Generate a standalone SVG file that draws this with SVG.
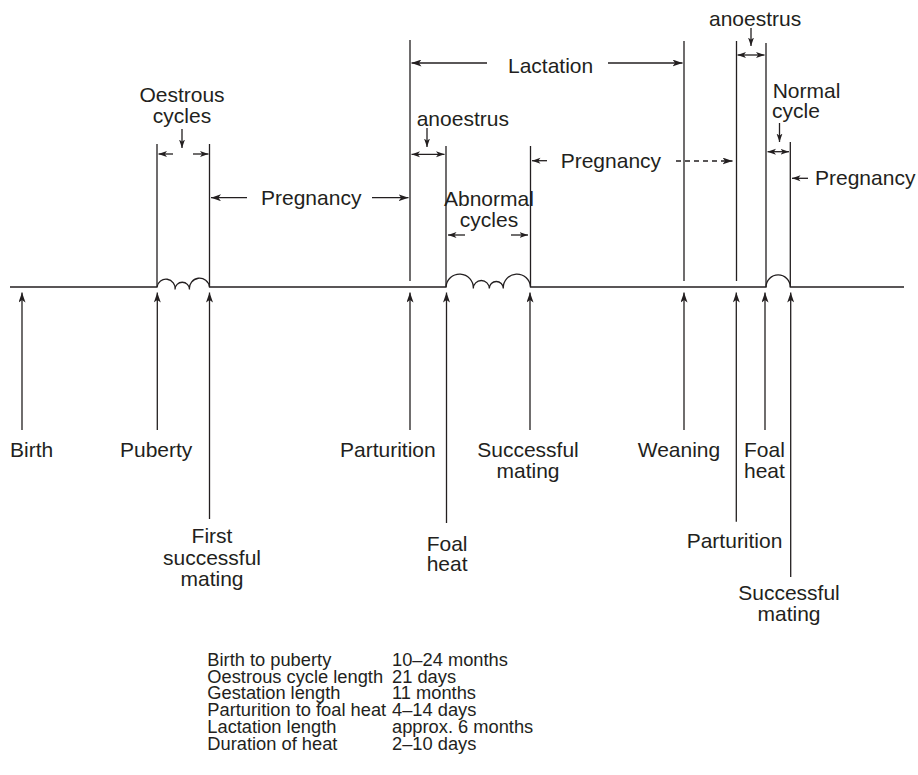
<svg xmlns="http://www.w3.org/2000/svg" width="918" height="775" viewBox="0 0 918 775">
<style>
.t{font-family:"Liberation Sans",Arial,Helvetica,sans-serif;font-size:21px;fill:#231f20}
.m{text-anchor:middle}
.tb{font-family:"Liberation Sans",Arial,Helvetica,sans-serif;font-size:18.3px;fill:#231f20}
.ln{fill:none;stroke:#231f20;stroke-width:1.3}
.ar{fill:none;stroke:#231f20;stroke-width:1.3;marker-end:url(#ah)}
.dbl{fill:none;stroke:#231f20;stroke-width:1.3;marker-start:url(#ahs);marker-end:url(#ahs)}
.sm{fill:none;stroke:#231f20;stroke-width:1.3;marker-end:url(#ahs)}
</style>
<defs>
<marker id="ah" viewBox="0 0 10 7" refX="10" refY="3.5" markerWidth="10" markerHeight="7" markerUnits="userSpaceOnUse" orient="auto">
<path d="M0,0 L10,3.5 L0,7 L2.6,3.5 z" fill="#231f20"/>
</marker>
<marker id="ahs" viewBox="0 0 10 7" refX="10" refY="3.5" markerWidth="8.5" markerHeight="6.6" markerUnits="userSpaceOnUse" orient="auto-start-reverse">
<path d="M0,0 L10,3.5 L0,7 L2.6,3.5 z" fill="#231f20"/>
</marker>
</defs>
<rect width="918" height="775" fill="#fff"/>

<g id="timeline">
<path class="ln" d="M10,287 H157 A9,9 0 0 1 175,289.5 A7,7 0 0 1 189.5,289.5 A9.5,9.5 0 0 1 209.5,287 H446 A13.5,13.5 0 0 1 473.3,288.5 A8,8 0 0 1 489.3,288.5 A7,7 0 0 1 503.3,288.5 A13.5,13.5 0 0 1 530.5,287 H766 A12,12 0 0 1 790.3,287 H904"/>
<path class="ln" d="M157,144 V287 M209.5,144 V287 M410,40 V281 M446,146 V287 M530.5,146 V287 M684,41 V281 M736.5,41 V281 M766,43 V287 M790.3,142 V287"/>
</g>

<g id="connectors">
<path class="sm" d="M182,129 V148"/>
<path class="sm" d="M173,154 H158.5"/>
<path class="sm" d="M193,154 H208.5"/>
<path class="ar" d="M247,197.7 H211"/>
<path class="ar" d="M372,197.7 H408.5"/>
<path class="ar" d="M487,63 H411.5"/>
<path class="ar" d="M608,63 H682.5"/>
<path class="sm" d="M427,128 V147"/>
<path class="dbl" d="M411.5,154.3 H444.5"/>
<path class="sm" d="M465,235 H448"/>
<path class="sm" d="M511,235 H528"/>
<path class="sm" d="M547,160.7 H532"/>
<path class="ar" d="M676,161 H732.5" stroke-dasharray="5,4"/>
<path class="sm" d="M751,28 V46"/>
<path class="dbl" d="M737.5,55 H764.5"/>
<path class="sm" d="M779.5,123 V142"/>
<path class="dbl" d="M767.5,151.7 H789"/>
<path class="sm" d="M808,178.3 H792"/>
<path class="ar" d="M22,430 V292.5"/>
<path class="ar" d="M157.3,430 V292.5"/>
<path class="ar" d="M209.5,519 V292.5"/>
<path class="ar" d="M410,430 V292.5"/>
<path class="ar" d="M446.5,523 V292.5"/>
<path class="ar" d="M530,430 V292.5"/>
<path class="ar" d="M684,430 V292.5"/>
<path class="ar" d="M736.3,521.7 V292.5"/>
<path class="ar" d="M765,430 V292.5"/>
<path class="ar" d="M790.7,577 V292.5"/>
</g>

<g id="period-labels">
<text class="t m" x="182" y="102">Oestrous</text>
<text class="t m" x="182" y="123">cycles</text>
<text class="t" x="261" y="205.3">Pregnancy</text>
<text class="t" x="508" y="72.7">Lactation</text>
<text class="t" x="416.7" y="126">anoestrus</text>
<text class="t" x="444" y="205.7">Abnormal</text>
<text class="t m" x="489" y="226.7">cycles</text>
<text class="t" x="560.7" y="168.3">Pregnancy</text>
<text class="t" x="709" y="26">anoestrus</text>
<text class="t" x="772.7" y="97.7">Normal</text>
<text class="t" x="772" y="118.3">cycle</text>
<text class="t" x="815" y="185">Pregnancy</text>
</g>

<g id="birth"><text class="t" x="10" y="456.7">Birth</text></g>
<g id="puberty"><text class="t" x="120" y="456.7">Puberty</text></g>
<g id="first-successful-mating">
<text class="t m" x="212" y="543.3">First</text>
<text class="t m" x="212" y="564.5">successful</text>
<text class="t m" x="212" y="585.5">mating</text>
</g>
<g id="parturition-1"><text class="t" x="340" y="456.7">Parturition</text></g>
<g id="foal-heat-1">
<text class="t" x="426.7" y="550.7">Foal</text>
<text class="t" x="426.7" y="571.3">heat</text>
</g>
<g id="successful-mating-1">
<text class="t m" x="528" y="456.7">Successful</text>
<text class="t m" x="528" y="478">mating</text>
</g>
<g id="weaning"><text class="t" x="637.7" y="456.7">Weaning</text></g>
<g id="parturition-2"><text class="t" x="686.7" y="548.3">Parturition</text></g>
<g id="foal-heat-2">
<text class="t" x="744" y="456.7">Foal</text>
<text class="t" x="744" y="478">heat</text>
</g>
<g id="successful-mating-2">
<text class="t m" x="789" y="600">Successful</text>
<text class="t m" x="789" y="621">mating</text>
</g>

<g id="table">
<text class="tb" x="207.3" y="666">Birth to puberty</text>
<text class="tb" x="207.3" y="682.7">Oestrous cycle length</text>
<text class="tb" x="207.3" y="699.3">Gestation length</text>
<text class="tb" x="207.3" y="716">Parturition to foal heat</text>
<text class="tb" x="207.3" y="732.7">Lactation length</text>
<text class="tb" x="207.3" y="749.5">Duration of heat</text>
<text class="tb" x="392" y="666">10–24 months</text>
<text class="tb" x="392" y="682.7">21 days</text>
<text class="tb" x="392" y="699.3">11 months</text>
<text class="tb" x="392" y="716">4–14 days</text>
<text class="tb" x="392" y="732.7">approx. 6 months</text>
<text class="tb" x="392" y="749.5">2–10 days</text>
</g>
</svg>
